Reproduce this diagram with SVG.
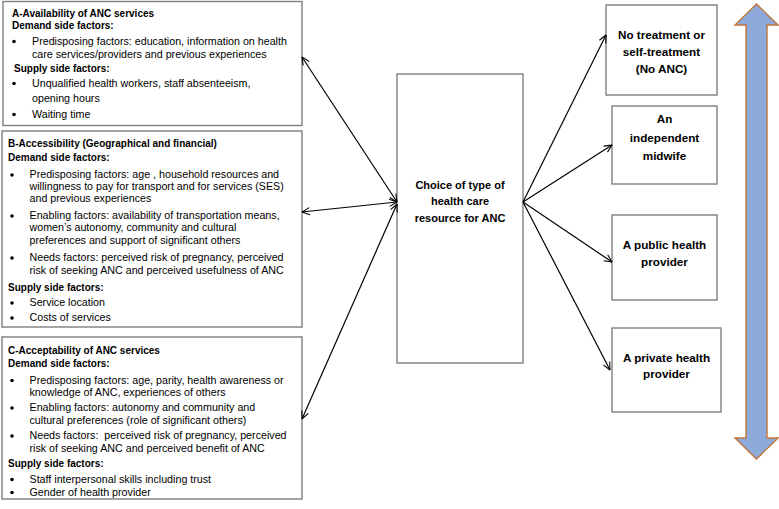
<svg xmlns="http://www.w3.org/2000/svg" width="779" height="509" viewBox="0 0 779 509">
<defs>
<marker id="ah" viewBox="0 0 10 10" refX="9.5" refY="5" markerWidth="9" markerHeight="9" markerUnits="userSpaceOnUse" orient="auto-start-reverse">
<path d="M1,1 L9.5,5 L1,9" fill="none" stroke="#000" stroke-width="1.2"/>
</marker>
<style>
.box{fill:#fff;stroke:#7f7f7f;stroke-width:1.4}
.t{font-family:"Liberation Sans",Arial,sans-serif;font-size:10.7px;fill:#000}
.h{font-family:"Liberation Sans",Arial,sans-serif;font-size:10px;font-weight:bold;fill:#000}
.c{font-family:"Liberation Sans",Arial,sans-serif;font-size:11.7px;font-weight:bold;fill:#000;text-anchor:middle}
.cc{font-family:"Liberation Sans",Arial,sans-serif;font-size:11px;font-weight:bold;fill:#000;text-anchor:middle}
.b{fill:#000}
.ln{stroke:#000;stroke-width:1.2;fill:none}
</style>
</defs>
<rect width="779" height="509" fill="#fff"/>

<g id="boxA">
<rect class="box" x="3" y="1.5" width="299" height="124"/>
<text class="h" x="12" y="16.5">A-Availability of ANC services</text>
<text class="h" x="12" y="28.5">Demand side factors:</text>
<circle class="b" cx="14" cy="41.5" r="1.8"/>
<text class="t" x="32" y="44.5">Predisposing factors: education, information on health</text>
<text class="t" x="32" y="57.5">care services/providers and previous experiences</text>
<text class="h" x="14" y="71.5">Supply side factors:</text>
<circle class="b" cx="14" cy="83.5" r="1.8"/>
<text class="t" x="32" y="86.5">Unqualified health workers, staff absenteeism,</text>
<text class="t" x="32" y="101.5">opening hours</text>
<circle class="b" cx="14" cy="114.5" r="1.8"/>
<text class="t" x="32" y="117.5">Waiting time</text>
</g>

<g id="boxB">
<rect class="box" x="2" y="131" width="300" height="196"/>
<text class="h" x="8" y="146.5">B-Accessibility (Geographical and financial)</text>
<text class="h" x="8" y="160.5">Demand side factors:</text>
<circle class="b" cx="12" cy="175" r="1.8"/>
<text class="t" x="29.5" y="178">Predisposing factors: age , household resources and</text>
<text class="t" x="29.5" y="190">willingness to pay for transport and for services (SES)</text>
<text class="t" x="29.5" y="202">and previous experiences</text>
<circle class="b" cx="12" cy="216" r="1.8"/>
<text class="t" x="29.5" y="219">Enabling factors: availability of transportation means,</text>
<text class="t" x="29.5" y="231">women’s autonomy, community and cultural</text>
<text class="t" x="29.5" y="243.5">preferences and support of significant others</text>
<circle class="b" cx="12" cy="258" r="1.8"/>
<text class="t" x="29.5" y="261">Needs factors: perceived risk of pregnancy, perceived</text>
<text class="t" x="29.5" y="273.5">risk of seeking ANC and perceived usefulness of ANC</text>
<text class="h" x="8" y="291">Supply side factors:</text>
<circle class="b" cx="12" cy="303" r="1.8"/>
<text class="t" x="29.5" y="306">Service location</text>
<circle class="b" cx="12" cy="318" r="1.8"/>
<text class="t" x="29.5" y="321">Costs of services</text>
</g>

<g id="boxC">
<rect class="box" x="2" y="337" width="300" height="162"/>
<text class="h" x="8" y="353.5">C-Acceptability of ANC services</text>
<text class="h" x="8" y="366.5">Demand side factors:</text>
<circle class="b" cx="12" cy="380.5" r="1.8"/>
<text class="t" x="29.5" y="383.5">Predisposing factors: age, parity, health awareness or</text>
<text class="t" x="29.5" y="396">knowledge of ANC, experiences of others</text>
<circle class="b" cx="12" cy="408" r="1.8"/>
<text class="t" x="29.5" y="411">Enabling factors: autonomy and community and</text>
<text class="t" x="29.5" y="424">cultural preferences (role of significant others)</text>
<circle class="b" cx="12" cy="436" r="1.8"/>
<text class="t" x="29.5" y="439" xml:space="preserve">Needs factors:  perceived risk of pregnancy, perceived</text>
<text class="t" x="29.5" y="452">risk of seeking ANC and perceived benefit of ANC</text>
<text class="h" x="8" y="467">Supply side factors:</text>
<circle class="b" cx="12" cy="479.5" r="1.8"/>
<text class="t" x="29.5" y="482.5">Staff interpersonal skills including trust</text>
<circle class="b" cx="12" cy="492.5" r="1.8"/>
<text class="t" x="29.5" y="495.5">Gender of health provider</text>
</g>

<g id="choice">
<rect class="box" x="397" y="74" width="126" height="289"/>
<text class="cc" x="460" y="188.5">Choice of type of</text>
<text class="cc" x="460" y="205">health care</text>
<text class="cc" x="460" y="221.5">resource for ANC</text>
</g>

<g id="noANC">
<rect class="box" x="606" y="5" width="111" height="90"/>
<text class="c" x="661.5" y="38.5">No treatment or</text>
<text class="c" x="661.5" y="55.5">self-treatment</text>
<text class="c" x="661.5" y="72.5">(No ANC)</text>
</g>

<g id="midwife">
<rect class="box" x="612" y="106" width="105" height="78"/>
<text class="c" x="664.5" y="122.5">An</text>
<text class="c" x="664.5" y="141.5">independent</text>
<text class="c" x="664.5" y="160">midwife</text>
</g>

<g id="public">
<rect class="box" x="612" y="215" width="105" height="85"/>
<text class="c" x="664.5" y="249">A public health</text>
<text class="c" x="664.5" y="266">provider</text>
</g>

<g id="private">
<rect class="box" x="612" y="328" width="109" height="84"/>
<text class="c" x="666.5" y="361.5">A private health</text>
<text class="c" x="666.5" y="377.5">provider</text>
</g>

<g id="scale">
<path d="M756.5,4 L778,25 L767,25 L767,438 L778,438 L756.5,459 L735,438 L746,438 L746,25 L735,25 Z" fill="#8eaadb" stroke="#c0763a" stroke-width="1.4"/>
</g>

<g id="connectors">
<line class="ln" x1="302" y1="57" x2="397" y2="202" marker-start="url(#ah)" marker-end="url(#ah)"/>
<line class="ln" x1="302" y1="212" x2="397" y2="202" marker-start="url(#ah)" marker-end="url(#ah)"/>
<line class="ln" x1="302" y1="419" x2="397" y2="204" marker-start="url(#ah)" marker-end="url(#ah)"/>
<line class="ln" x1="523" y1="202" x2="606" y2="35" marker-end="url(#ah)"/>
<line class="ln" x1="523" y1="202" x2="612" y2="145" marker-end="url(#ah)"/>
<line class="ln" x1="523" y1="202" x2="612" y2="262" marker-end="url(#ah)"/>
<line class="ln" x1="523" y1="202" x2="610" y2="370" marker-end="url(#ah)"/>
</g>
</svg>
